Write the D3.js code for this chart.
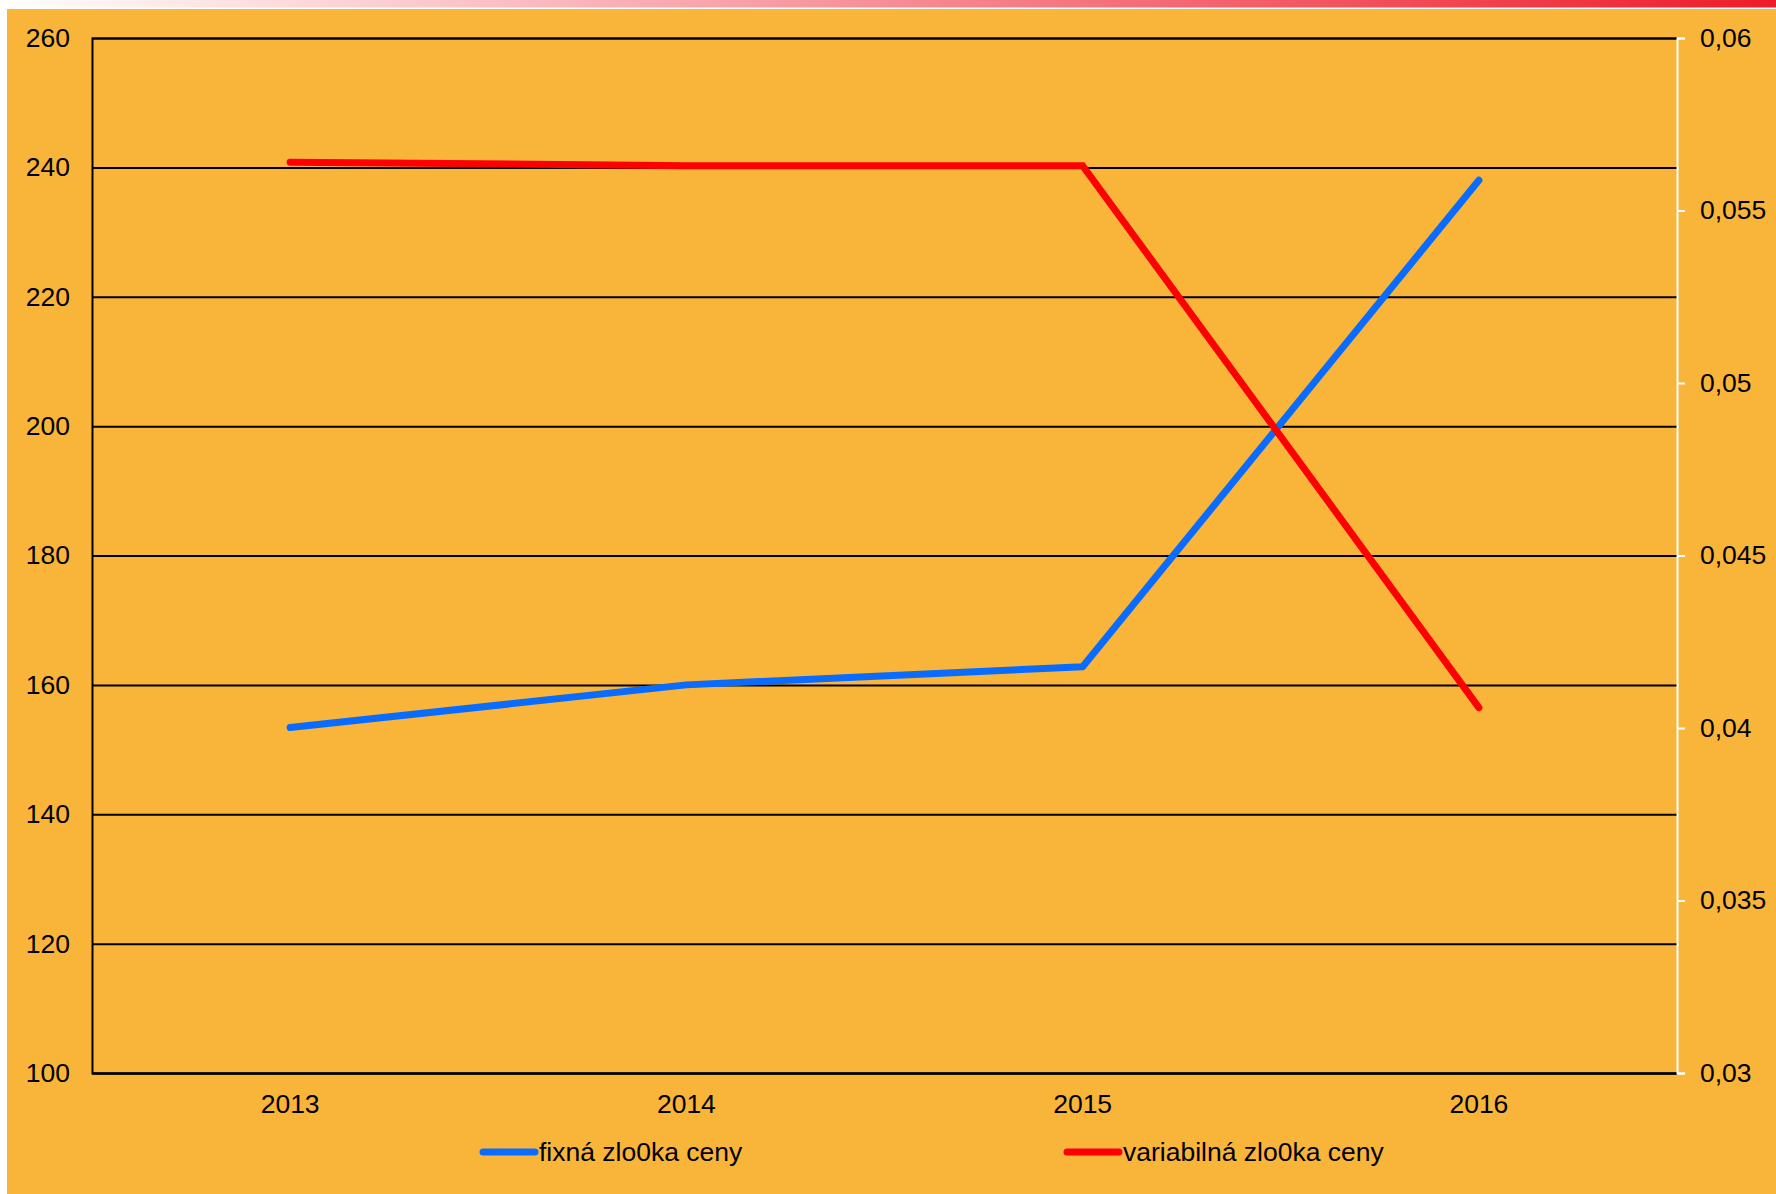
<!DOCTYPE html>
<html>
<head>
<meta charset="utf-8">
<script src="https://cdn.jsdelivr.net/npm/d3@7"></script>
<style>
  html, body { margin: 0; padding: 0; background: #ffffff; }
  svg { display: block; }
  text { font-family: "Liberation Sans", Arial, sans-serif; fill: #000; }
</style>
</head>
<body>
<svg id="chart" width="1776" height="1194"></svg>
<script>
const years = ["2013", "2014", "2015", "2016"];
const fixedComponent = [153.4, 160.0, 162.8, 238.0];
const variableComponent = [0.0564, 0.0563, 0.0563, 0.04059];
const leftTicks = [100, 120, 140, 160, 180, 200, 220, 240, 260];
const rightTicks = [0.03, 0.035, 0.04, 0.045, 0.05, 0.055, 0.06];
const seriesNames = ["fixná zlo0ka ceny", "variabilná zlo0ka ceny"];
const seriesColors = ["#0A6CFF", "#FF0000"];

const W = 1776, H = 1194;
const plot = { left: 92, right: 1677, top: 38, bottom: 1073 };
const FS = 26.5;

const svg = d3.select("#chart");

// header gradient band
const defs = svg.append("defs");
const grad = defs.append("linearGradient").attr("id", "topband").attr("x1", "0").attr("x2", "1").attr("y1", "0").attr("y2", "0");
grad.append("stop").attr("offset", "0").attr("stop-color", "#ffffff");
grad.append("stop").attr("offset", "1").attr("stop-color", "#ED1C2B");
svg.append("rect").attr("x", 0).attr("y", 0).attr("width", W).attr("height", 7.5).attr("fill", "url(#topband)");

// orange background
svg.append("rect").attr("x", 7).attr("y", 9).attr("width", W - 7).attr("height", H - 9).attr("fill", "#F9B53A");

const x = d3.scaleBand().domain(years).range([plot.left, plot.right]);
const yL = d3.scaleLinear().domain([100, 260]).range([plot.bottom, plot.top]);
const yR = d3.scaleLinear().domain([0.03, 0.06]).range([plot.bottom, plot.top]);

const locale = d3.formatLocale({ decimal: ",", thousands: " ", grouping: [3], currency: ["", ""] });
const fmtR = locale.format(".3~f");

// gridlines + left axis
const gLeft = svg.append("g").attr("transform", `translate(${plot.left},0)`)
  .call(d3.axisLeft(yL).tickValues(leftTicks).tickSize(-(plot.right - plot.left)).tickPadding(22).tickFormat(d3.format("d")));
gLeft.select(".domain").attr("stroke", "#000").attr("stroke-width", 2);
gLeft.selectAll(".tick line").attr("stroke", "#000").attr("stroke-width", 2);
gLeft.selectAll(".tick text").attr("font-size", FS).attr("font-family", "Liberation Sans, Arial, sans-serif").attr("fill", "#000");

// bottom axis
const gBottom = svg.append("g").attr("transform", `translate(0,${plot.bottom})`)
  .call(d3.axisBottom(x).tickSize(0).tickPadding(21));
gBottom.select(".domain").attr("stroke", "#000").attr("stroke-width", 2);
gBottom.selectAll(".tick text").attr("font-size", FS).attr("font-family", "Liberation Sans, Arial, sans-serif").attr("fill", "#000");

// right axis
const gRight = svg.append("g").attr("transform", `translate(${plot.right},0)`)
  .call(d3.axisRight(yR).tickValues(rightTicks).tickSize(8).tickSizeOuter(8).tickPadding(15).tickFormat(fmtR));
gRight.select(".domain").attr("stroke", "#ffffff").attr("stroke-width", 2);
gRight.selectAll(".tick line").attr("stroke", "#ffffff").attr("stroke-width", 2);
gRight.selectAll(".tick text").attr("font-size", FS).attr("font-family", "Liberation Sans, Arial, sans-serif").attr("fill", "#000");

// lines
const cx = d => x(d) + x.bandwidth() / 2;
const lineL = d3.line().x((d, i) => cx(years[i])).y(d => yL(d));
const lineR = d3.line().x((d, i) => cx(years[i])).y(d => yR(d));

svg.append("path").datum(fixedComponent).attr("d", lineL)
  .attr("fill", "none").attr("stroke", seriesColors[0]).attr("stroke-width", 7)
  .attr("stroke-linecap", "round").attr("stroke-linejoin", "round");
svg.append("path").datum(variableComponent).attr("d", lineR)
  .attr("fill", "none").attr("stroke", seriesColors[1]).attr("stroke-width", 7)
  .attr("stroke-linecap", "round").attr("stroke-linejoin", "miter");

// legend
const legendY = 1152;
const legendItems = [
  { name: seriesNames[0], color: seriesColors[0], x0: 483 },
  { name: seriesNames[1], color: seriesColors[1], x0: 1067 }
];
const lg = svg.append("g");
legendItems.forEach(it => {
  lg.append("line").attr("x1", it.x0).attr("x2", it.x0 + 52).attr("y1", legendY).attr("y2", legendY)
    .attr("stroke", it.color).attr("stroke-width", 7).attr("stroke-linecap", "round");
  lg.append("text").attr("x", it.x0 + 56).attr("y", legendY).attr("dy", "0.35em")
    .attr("font-size", FS).text(it.name);
});
</script>
</body>
</html>
